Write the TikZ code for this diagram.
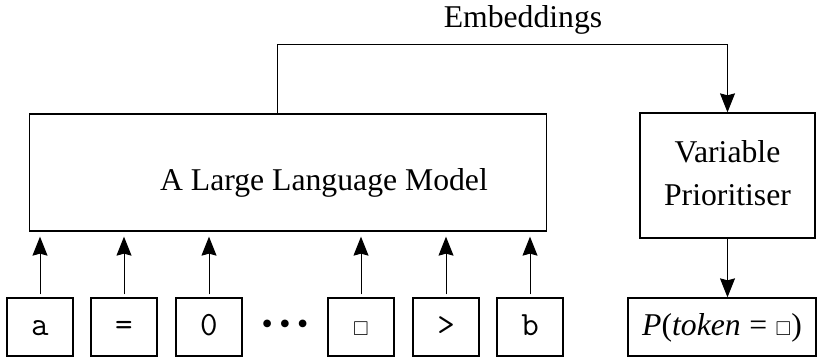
\documentclass[tikz,border=0pt]{standalone}
\usepackage{amssymb}
\usepackage{fontspec}
\setmainfont{Liberation Serif}
\usetikzlibrary{arrows.meta}
\newcommand{\smallsq}{{\fontsize{20}{24}\selectfont$\square$}}
\begin{document}
\begin{tikzpicture}[x=1pt,y=-1pt,
  box/.style={draw, line width=1.3pt, inner sep=0pt},
  lbl/.style={font=\fontsize{31.7}{43}\selectfont},
  tok/.style={box, minimum width=66pt, minimum height=58pt,
    text height=16pt, text depth=0pt, font=\ttfamily\fontsize{34}{40}\selectfont},
  link/.style={line width=1pt, -{Stealth[width=15pt,length=19pt,inset=2pt]}},
  feed/.style={link, shorten <=3pt, shorten >=5pt}]
\useasboundingbox (0,0) rectangle (819,363);

% model and prioritiser
\node[box, minimum width=517pt, minimum height=117pt] (llm) at (288,172.5) {};
\node[lbl, anchor=base] (llmtext) at (324,190.5) {A Large Language Model};
\node[box, lbl, minimum width=175pt, minimum height=125pt, align=center,
  text depth=4pt] (vp) at (727.5,175.5) {Variable\\Prioritiser};
\node[box, lbl, minimum width=188pt, minimum height=58pt,
  text height=22pt, text depth=6pt] (prob) at (722,327)
  {\textit{P}(\textit{token}\hspace{0.27em}=\hspace{0.27em}\smallsq)};

% input tokens
\node[tok] (t1) at (40,327) {a};
\node[tok] (t2) at (124,327) {=};
\node[tok] (t3) at (209,327) {0};
\node[font=\fontsize{32}{36}\selectfont] (dots) at (285,327)
  {\textbullet\hspace{6.5pt}\textbullet\hspace{6.5pt}\textbullet};
\node[tok] (t4) at (361,327) {\smallsq};
\node[tok] (t5) at (446,327) {>};
\node[tok] (t6) at (530,327) {b};

\foreach \t in {t1,t2,t3,t4,t5,t6}
  \draw[feed] (\t.north) -- (\t.north |- llm.south);

% embeddings route
\coordinate (bend) at (277,45);
\node[lbl, anchor=base] (emb) at (523,28) {Embeddings};
\draw[link] (llm.north -| bend) -- (bend) -- (bend -| vp.north) -- (vp.north);
\draw[link] (vp.south) -- (vp.south |- prob.north);
\end{tikzpicture}
\end{document}
